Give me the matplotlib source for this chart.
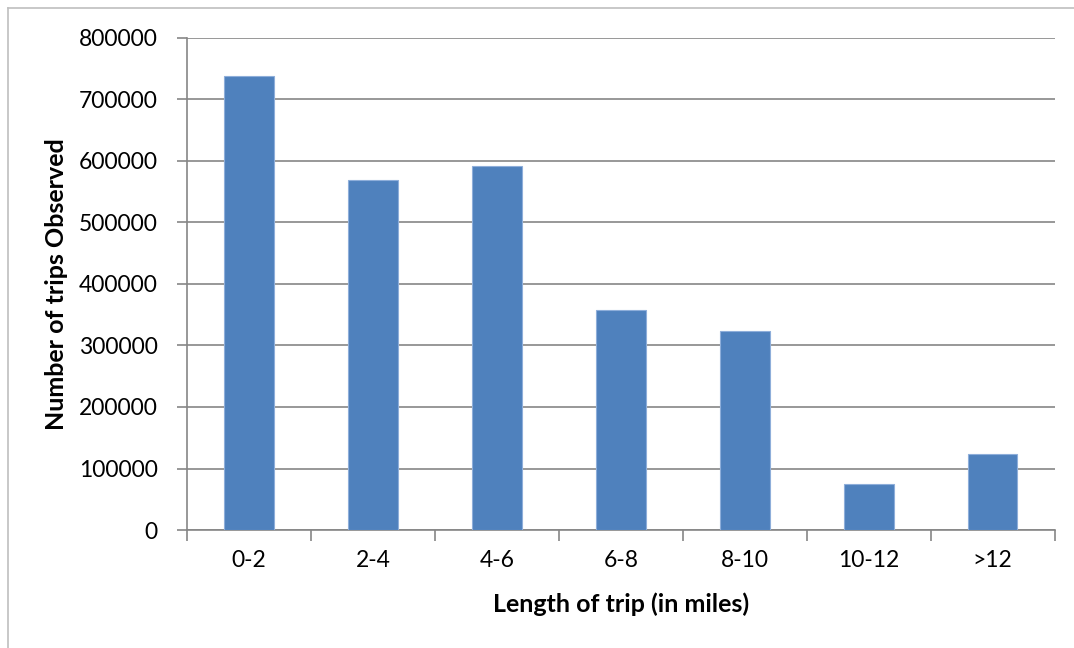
import matplotlib.pyplot as plt
from matplotlib.lines import Line2D

categories = ['0-2', '2-4', '4-6', '6-8', '8-10', '10-12', '>12']
trips = [737000, 568000, 591000, 357500, 324000, 75000, 123300]
yticks = [0, 100000, 200000, 300000, 400000, 500000, 600000, 700000, 800000]

plt.rcParams['font.family'] = ['Lato', 'DejaVu Sans']

fig = plt.figure(figsize=(10.74, 6.48), dpi=100)
ax = fig.add_axes([0.174, 0.182, 0.808, 0.76])

grey = '#868686'
x = list(range(len(categories)))
ax.bar(x, trips, width=0.4, color='#4F81BD', edgecolor='#8EAEDA', linewidth=0.8, zorder=3)

ax.set_xlim(-0.5, len(categories) - 0.5)
ax.set_ylim(0, 800000)
ax.set_yticks(yticks)
ax.set_yticklabels([str(v) for v in yticks], fontsize=16.5)
ax.set_xticks(x)
ax.set_xticklabels(categories, fontsize=16.5)
ax.yaxis.grid(True, color=grey, linewidth=1.2, zorder=0)

# boundary ticks between categories, like the spreadsheet chart
ax.set_xticks([i - 0.5 for i in range(len(categories) + 1)], minor=True)
ax.tick_params(axis='x', which='major', length=0, pad=14)
ax.tick_params(axis='x', which='minor', length=8, width=1.2, color=grey, direction='out')
ax.tick_params(axis='y', length=7, width=1.2, color=grey, pad=14)

for side in ['top', 'right']:
    ax.spines[side].set_visible(False)
for side in ['left', 'bottom']:
    ax.spines[side].set_color(grey)
    ax.spines[side].set_linewidth(1.2)

ax.set_xlabel('Length of trip (in miles)', fontsize=18, fontweight='bold', labelpad=16)
ax.set_ylabel('Number of trips Observed', fontsize=18, fontweight='bold', labelpad=8)

# outer chart border (left and top visible in the reference)
fig.add_artist(Line2D([0.0075, 0.0075], [0, 0.988], color='#BFBFBF', linewidth=1.2))
fig.add_artist(Line2D([0.0075, 1.0], [0.988, 0.988], color='#BFBFBF', linewidth=1.2))

fig.savefig('out.png', dpi=100)
